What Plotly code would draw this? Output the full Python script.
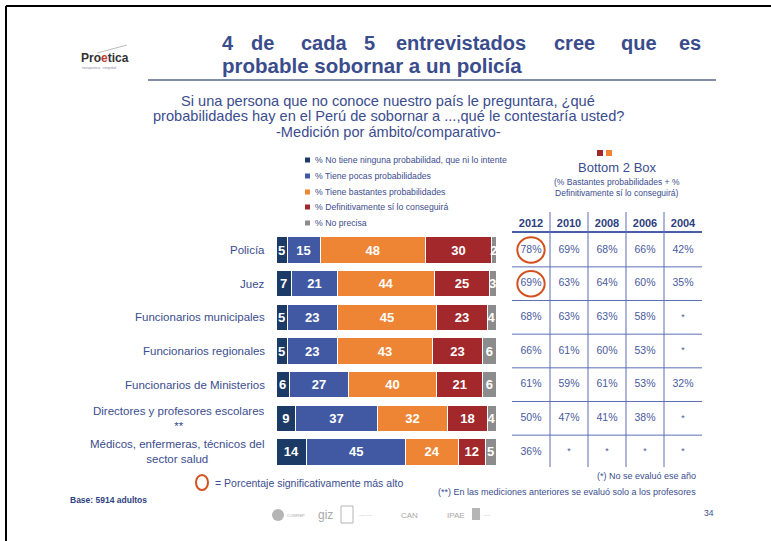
import plotly.graph_objects as go

# ---------------- data ----------------
categories = ["Policía", "Juez", "Funcionarios municipales", "Funcionarios regionales",
              "Funcionarios de Ministerios", "Directores y profesores escolares<br>**",
              "Médicos, enfermeras, técnicos del<br>sector salud"]
ninguna = [5, 7, 5, 5, 6, 9, 14]
pocas = [15, 21, 23, 23, 27, 37, 45]
bastantes = [48, 44, 45, 43, 40, 32, 24]
definitivamente = [30, 25, 23, 23, 21, 18, 12]
no_precisa = [2, 3, 4, 6, 6, 4, 5]
series_names = ["% No tiene ninguna probabilidad, que ni lo intente",
                "% Tiene pocas probabilidades",
                "% Tiene bastantes probabilidades",
                "% Definitivamente sí lo conseguirá",
                "% No precisa"]

years = ["2012", "2010", "2008", "2006", "2004"]
b2b_2012 = [78, 69, 68, 66, 61, 50, 36]
b2b_2010 = [69, 63, 63, 61, 59, 47, None]
b2b_2008 = [68, 64, 63, 60, 61, 41, None]
b2b_2006 = [66, 60, 58, 53, 53, 38, None]
b2b_2004 = [42, 35, None, None, 32, None, None]
significant_2012 = [True, True, False, False, False, False, False]

# ---------------- styling ----------------
W, H = 771, 541
FONT = "Liberation Sans"
BLUE_TXT = "#3b4d8e"
DARK_BLUE = "#2e3f80"
colors = ["#1b3a66", "#4159a3", "#ee8535", "#a2282b", "#8c8c8c"]
CIRCLE = "#d3511f"


def px(x):
    return x / W


def py(y):
    return 1 - y / H


fig = go.Figure()

series = [ninguna, pocas, bastantes, definitivamente, no_precisa]
for name, vals, col in zip(series_names, series, colors):
    fig.add_trace(go.Bar(
        orientation="h", x=vals, y=categories, name=name,
        marker=dict(color=col, line=dict(color="white", width=1)),
        texttemplate="<b>%{x}</b>", textposition="inside", insidetextanchor="middle",
        textfont=dict(color="white", size=13, family=FONT),
        showlegend=False, hoverinfo="skip", cliponaxis=False,
    ))

# table values through second x axis
table_cols = [b2b_2012, b2b_2010, b2b_2008, b2b_2006, b2b_2004]
tx, ty, tt, tsz = [], [], [], []
for yr, col in zip(years, table_cols):
    for cat, v in zip(categories, col):
        tx.append(yr)
        ty.append(cat)
        tt.append(f"{v}%" if v is not None else "*")
        tsz.append(10.5 if v is not None else 9)
fig.add_trace(go.Scatter(
    x=tx, y=ty, text=tt, mode="text", xaxis="x2", yaxis="y",
    textfont=dict(size=tsz, color="#4a5a9e", family=FONT),
    showlegend=False, hoverinfo="skip",
))

shapes = []
annotations = []

# frame lines
shapes.append(dict(type="line", xref="paper", yref="paper", x0=px(6), x1=1, y0=py(6), y1=py(6),
                   line=dict(color="black", width=2)))
shapes.append(dict(type="line", xref="paper", yref="paper", x0=px(6), x1=px(6), y0=py(6), y1=0,
                   line=dict(color="black", width=2)))

# title line
shapes.append(dict(type="line", xref="paper", yref="paper", x0=px(148), x1=px(716), y0=py(80), y1=py(80),
                   line=dict(color="#56688f", width=1.5)))

# title words (justified first line)
title_words = [("4", 220), ("de", 249), ("cada", 299), ("5", 362), ("entrevistados", 394),
               ("cree", 552), ("que", 619), ("es", 677)]
for w, x in title_words:
    annotations.append(dict(text=f"<b>{w}</b>", x=px(x), y=py(43), xref="paper", yref="paper",
                            xanchor="left", yanchor="middle", showarrow=False,
                            font=dict(size=20, color="#3a4c8c", family=FONT)))
annotations.append(dict(text="<b>probable sobornar a un policía</b>", x=px(220), y=py(65.5), xref="paper",
                        yref="paper", xanchor="left", yanchor="middle", showarrow=False,
                        font=dict(size=20.5, color="#3a4c8c", family=FONT)))

# logo
annotations.append(dict(text="<b>Pro<span style='color:#c0392b'>e</span>tica</b>", x=px(79), y=py(58),
                        xref="paper", yref="paper", xanchor="left", yanchor="middle", showarrow=False,
                        font=dict(size=12, color="#333333", family=FONT)))
shapes.append(dict(type="line", xref="paper", yref="paper", x0=px(97), x1=px(127), y0=py(53), y1=py(45),
                   line=dict(color="#bbbbbb", width=1)))
annotations.append(dict(text="transparencia · integridad", x=px(80), y=py(68), xref="paper", yref="paper",
                        xanchor="left", yanchor="middle", showarrow=False,
                        font=dict(size=3, color="#8888aa", family=FONT)))

# subtitle
for txt, y in [("Si una persona que no conoce nuestro país le preguntara, ¿qué", 101),
               ("probabilidades hay en el Perú de sobornar a ...,qué le contestaría usted?", 116.5),
               ("-Medición por ámbito/comparativo-", 132)]:
    annotations.append(dict(text=txt, x=px(388), y=py(y), xref="paper", yref="paper",
                            xanchor="center", yanchor="middle", showarrow=False,
                            font=dict(size=14.6, color=BLUE_TXT, family=FONT)))

# legend (manual)
leg_y = [160, 176, 192, 207, 223]
for name, col, y in zip(series_names, colors, leg_y):
    shapes.append(dict(type="rect", xref="paper", yref="paper", x0=px(305), x1=px(310),
                       y0=py(y - 2.5), y1=py(y + 2.5), fillcolor=col, line=dict(width=0)))
    annotations.append(dict(text=name, x=px(313), y=py(y), xref="paper", yref="paper",
                            xanchor="left", yanchor="middle", showarrow=False,
                            font=dict(size=8.7, color=BLUE_TXT, family=FONT)))

# category labels
for cat in categories:
    annotations.append(dict(text=cat, x=px(267), y=cat, xref="paper", yref="y",
                            xanchor="right", yanchor="middle", align="center", showarrow=False,
                            font=dict(size=11.5, color=BLUE_TXT, family=FONT)))

# Bottom 2 box header
shapes.append(dict(type="rect", xref="paper", yref="paper", x0=px(597), x1=px(603), y0=py(150), y1=py(156),
                   fillcolor=colors[3], line=dict(width=0)))
shapes.append(dict(type="rect", xref="paper", yref="paper", x0=px(606), x1=px(612), y0=py(150), y1=py(156),
                   fillcolor=colors[2], line=dict(width=0)))
annotations.append(dict(text="Bottom 2 Box", x=px(617), y=py(168), xref="paper", yref="paper",
                        xanchor="center", yanchor="middle", showarrow=False,
                        font=dict(size=13, color=BLUE_TXT, family=FONT)))
annotations.append(dict(text="(% Bastantes probabilidades + %<br>Definitivamente sí lo conseguirá)",
                        x=px(617), y=py(188), xref="paper", yref="paper", xanchor="center",
                        yanchor="middle", showarrow=False, align="center",
                        font=dict(size=8.5, color=BLUE_TXT, family=FONT)))

# table grid
for i in range(len(categories) - 1):
    shapes.append(dict(type="line", xref="paper", yref="y", x0=px(512), x1=px(702), y0=i + 0.5, y1=i + 0.5,
                       line=dict(color="#5d6fb3", width=1)))
for j in range(len(years) - 1):
    shapes.append(dict(type="line", xref="x2", yref="paper", x0=j + 0.5, x1=j + 0.5, y0=py(212), y1=py(467),
                       line=dict(color="#5d6fb3", width=1)))
# significance circles
for i, sig in enumerate(significant_2012):
    if sig:
        shapes.append(dict(type="circle", xref="x2", yref="y", x0=-0.36, x1=0.36, y0=i - 0.38, y1=i + 0.38,
                           line=dict(color=CIRCLE, width=2)))

# footer
shapes.append(dict(type="circle", xref="paper", yref="paper", x0=px(196), x1=px(208), y0=py(475), y1=py(490),
                   line=dict(color=CIRCLE, width=2)))
annotations.append(dict(text="= Porcentaje significativamente más alto", x=px(213), y=py(483),
                        xref="paper", yref="paper", xanchor="left", yanchor="middle", showarrow=False,
                        font=dict(size=10.5, color=BLUE_TXT, family=FONT)))
annotations.append(dict(text="(*) No se evaluó ese año", x=px(698), y=py(476), xref="paper", yref="paper",
                        xanchor="right", yanchor="middle", showarrow=False,
                        font=dict(size=9, color=BLUE_TXT, family=FONT)))
annotations.append(dict(text="(**) En las mediciones anteriores se evaluó solo a los profesores", x=px(698),
                        y=py(492), xref="paper", yref="paper", xanchor="right", yanchor="middle",
                        showarrow=False, font=dict(size=9, color=BLUE_TXT, family=FONT)))
annotations.append(dict(text="<b>Base: 5914 adultos</b>", x=px(68), y=py(500), xref="paper", yref="paper",
                        xanchor="left", yanchor="middle", showarrow=False,
                        font=dict(size=8.5, color=DARK_BLUE, family=FONT)))
annotations.append(dict(text="34", x=px(716), y=py(513), xref="paper", yref="paper",
                        xanchor="right", yanchor="middle", showarrow=False,
                        font=dict(size=8.5, color=BLUE_TXT, family=FONT)))

# sponsor logos (faint)
shapes.append(dict(type="circle", xref="paper", yref="paper", x0=px(272), x1=px(284), y0=py(509), y1=py(521),
                   fillcolor="#b5b5b5", line=dict(width=0)))
shapes.append(dict(type="rect", xref="paper", yref="paper", x0=px(341), x1=px(353), y0=py(506), y1=py(523),
                   fillcolor="white", line=dict(color="#b5b5b5", width=1)))
shapes.append(dict(type="rect", xref="paper", yref="paper", x0=px(472), x1=px(480), y0=py(508), y1=py(520),
                   fillcolor="#b5b5b5", line=dict(width=0)))
for txt, x, sz in [("CONFIEP", 285, 4), ("giz", 316, 12), ("—— ——", 357, 3), ("CAN", 399, 8),
                   ("IPAE", 445, 8), ("——", 482, 3)]:
    annotations.append(dict(text=txt, x=px(x), y=py(515), xref="paper", yref="paper", xanchor="left",
                            yanchor="middle", showarrow=False,
                            font=dict(size=sz, color="#a8a8a8", family=FONT)))

fig.update_layout(
    width=W, height=H, margin=dict(l=0, r=0, t=0, b=0),
    paper_bgcolor="white", plot_bgcolor="rgba(0,0,0,0)",
    barmode="stack", bargap=0.22,
    uniformtext=dict(minsize=13, mode="show"),
    xaxis=dict(domain=[px(276), px(496)], range=[0, 100], visible=False, fixedrange=True),
    xaxis2=dict(domain=[px(512), px(702)], type="category", categoryorder="array", categoryarray=years,
                range=[-0.5, 4.5], anchor="y", side="top", showgrid=False, zeroline=False,
                showline=True, linecolor="#4a5ea8", linewidth=2, ticks="",
                tickfont=dict(size=11, color=DARK_BLUE, family=FONT), tickprefix="<b>", ticksuffix="</b>"),
    yaxis=dict(domain=[py(468.8), py(233.2)], type="category", categoryorder="array",
               categoryarray=categories, range=[6.5, -0.5], showticklabels=False, showgrid=False,
               zeroline=False, showline=False, ticks=""),
    shapes=shapes, annotations=annotations, showlegend=False,
)

fig.write_html("out.html", config={"displayModeBar": False},
               post_script="document.body.style.margin='0px';")
